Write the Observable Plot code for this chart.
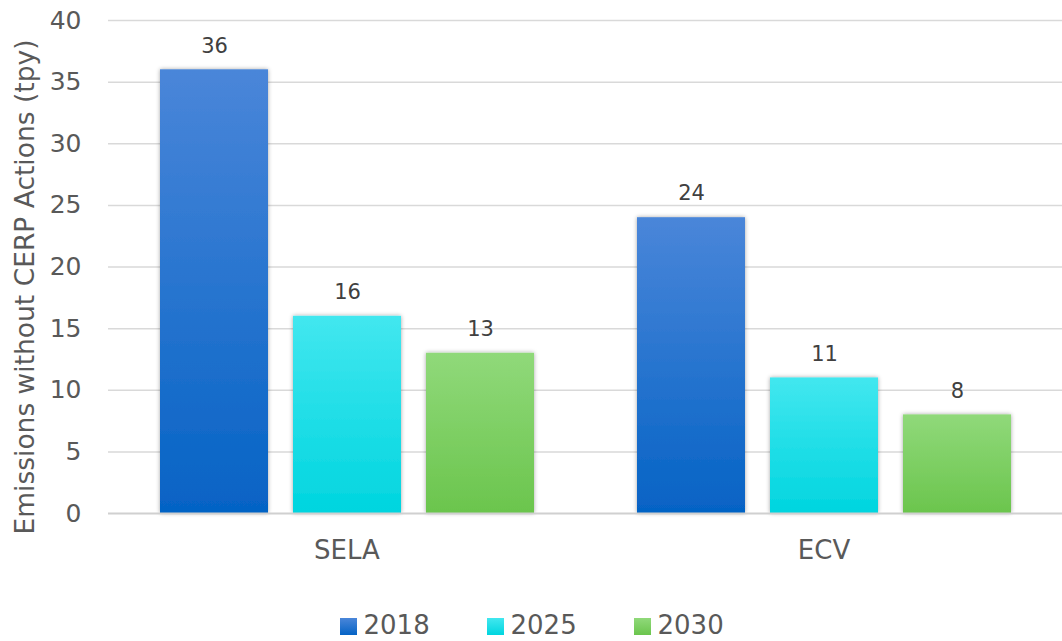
<!DOCTYPE html>
<html>
<head>
<meta charset="utf-8">
<script src="https://cdn.jsdelivr.net/npm/d3@7"></script>
<script src="https://cdn.jsdelivr.net/npm/@observablehq/plot@0.6"></script>
<style>
  body { margin: 0; background: #fff; font-family: "DejaVu Sans", sans-serif; }
  #legend { display: flex; justify-content: center; align-items: center; height: 51px; color: #595959; font-size: 26px; padding-left: 58px; margin-top: 9px; }
  #legend .item { display: flex; align-items: center; width: 147px; }
  #legend .sw { width: 17px; height: 17px; margin-right: 7px; margin-top: 4px; }
</style>
</head>
<body>
<div id="chart"></div>
<div id="legend"></div>
<script>
const groups = ["SELA", "ECV"];
const years = ["2018", "2025", "2030"];
const values2018 = [36, 24];
const values2025 = [16, 11];
const values2030 = [13, 8];
const yTicks = [0, 5, 10, 15, 20, 25, 30, 35, 40];
const yLabel = "Emissions without CERP Actions (tpy)";

const gradients = {
  "2018": ["#4a86d9", "#0563c5"],
  "2025": ["#42e7ef", "#00d5df"],
  "2030": ["#90d97a", "#6bc54d"]
};

const seriesValues = {"2018": values2018, "2025": values2025, "2030": values2030};
const data = [];
groups.forEach((g, i) => years.forEach(y => data.push({group: g, year: y, value: seriesValues[y][i]})));

const W = 1062, H = 590;
const svg = Plot.plot({
  width: W,
  height: H,
  marginLeft: 108,
  marginRight: 0,
  marginTop: 20,
  marginBottom: 77,
  style: {fontFamily: "DejaVu Sans, sans-serif", color: "#595959", background: "white"},
  fx: {domain: groups, padding: 0, axis: "bottom", label: null, tickSize: 0, tickPadding: 27},
  x: {domain: years, paddingInner: 0.188, paddingOuter: 0.387, axis: null},
  y: {domain: [0, 40], ticks: yTicks, tickSize: 0, tickPadding: 27, label: null},
  marks: [
    Plot.ruleY(yTicks.filter(t => t > 0), {stroke: "#d9d9d9", strokeWidth: 1.5}),
    ...years.map(yr => Plot.barY(data.filter(d => d.year === yr), {fx: "group", x: "year", y: "value", fill: `url(#grad${yr})`})),
    Plot.ruleY([0], {stroke: "#d0d0d0", strokeWidth: 2}),
    Plot.text(data, {fx: "group", x: "year", y: "value", text: d => String(d.value), dy: -24, fill: "#404040", fontSize: 21, lineAnchor: "middle"})
  ]
});

const s = d3.select(svg);
const defs = s.insert("defs", ":first-child");
for (const yr of years) {
  const lg = defs.append("linearGradient").attr("id", "grad" + yr).attr("x1", 0).attr("y1", 0).attr("x2", 0).attr("y2", 1);
  lg.append("stop").attr("offset", "0%").attr("stop-color", gradients[yr][0]);
  lg.append("stop").attr("offset", "100%").attr("stop-color", gradients[yr][1]);
}
const f = defs.append("filter").attr("id", "shadow").attr("x", "-20%").attr("y", "-20%").attr("width", "140%").attr("height", "140%");
f.append("feDropShadow").attr("dx", 0).attr("dy", 0).attr("stdDeviation", 2.2).attr("flood-color", "#000").attr("flood-opacity", 0.35);
s.selectAll('g[aria-label="bar"] rect').attr("filter", "url(#shadow)");

// axis tick label sizes
s.selectAll('g[aria-label="y-axis tick label"]').attr("font-size", 25).selectAll("text").attr("font-size", 25);
s.selectAll('g[aria-label="fx-axis tick label"]').attr("font-size", 26).selectAll("text").attr("font-size", 26);

// y-axis title
s.append("text")
  .attr("transform", "translate(34,287) rotate(-90)")
  .attr("text-anchor", "middle")
  .attr("font-size", 26.5)
  .attr("fill", "#595959")
  .text(yLabel);

document.getElementById("chart").appendChild(svg);

const legend = d3.select("#legend");
for (const yr of years) {
  const it = legend.append("div").attr("class", "item");
  it.append("div").attr("class", "sw").style("background", `linear-gradient(${gradients[yr][0]}, ${gradients[yr][1]})`);
  it.append("span").text(yr);
}
</script>
</body>
</html>
